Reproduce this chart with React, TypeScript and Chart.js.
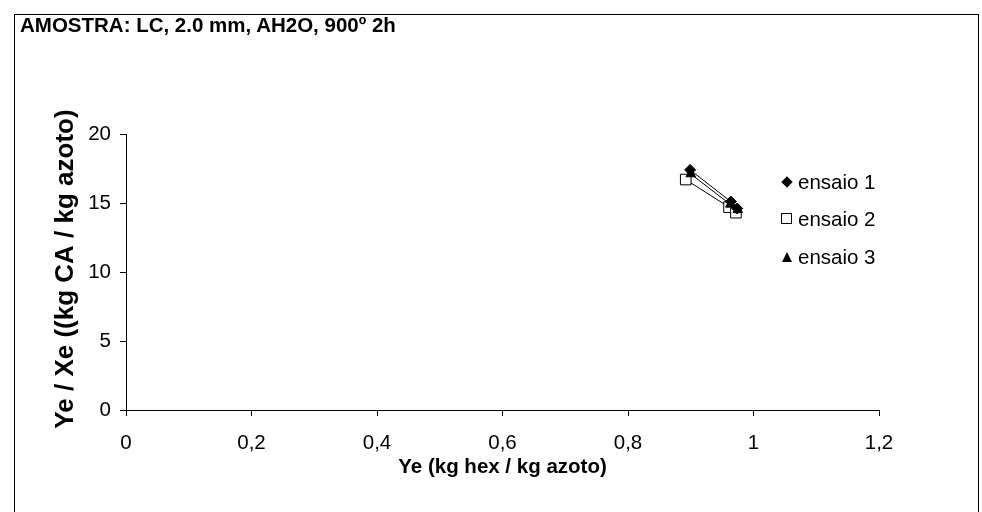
import React, { useEffect, useRef } from "react";
import { Chart, registerables } from "chart.js";

Chart.register(...registerables);

const chartTitle = "AMOSTRA: LC, 2.0 mm, AH2O, 900º 2h";
const xAxisTitle = "Ye (kg hex / kg azoto)";
const yAxisTitle = "Ye / Xe ((kg CA / kg azoto)";

const seriesNames = ["ensaio 1", "ensaio 2", "ensaio 3"];

const ensaio1X = [0.899, 0.964, 0.974];
const ensaio1Y = [17.4, 15.1, 14.6];
const ensaio2X = [0.892, 0.961, 0.972];
const ensaio2Y = [16.7, 14.7, 14.3];
const ensaio3X = [0.9, 0.963, 0.975];
const ensaio3Y = [17.1, 14.9, 14.5];

const xMin = 0;
const xMax = 1.2;
const xStep = 0.2;
const yMin = 0;
const yMax = 20;
const yStep = 5;

const FONT = "'Liberation Sans', Arial, sans-serif";

function toPoints(xs: number[], ys: number[]) {
  return xs.map((x, i) => ({ x, y: ys[i] }));
}

const titlesPlugin = {
  id: "axisTitles",
  afterDraw(chart: any) {
    const { ctx, chartArea } = chart;
    ctx.save();
    ctx.fillStyle = "#000";
    ctx.textAlign = "center";
    ctx.textBaseline = "middle";
    ctx.font = `bold 20.5px ${FONT}`;
    ctx.fillText(xAxisTitle, (chartArea.left + chartArea.right) / 2, 467);
    ctx.translate(66, (chartArea.top + chartArea.bottom) / 2 - 3);
    ctx.rotate(-Math.PI / 2);
    ctx.font = `bold 26px ${FONT}`;
    ctx.fillText(yAxisTitle, 0, 0);
    ctx.restore();
  },
};

export default function App() {
  const canvasRef = useRef<HTMLCanvasElement | null>(null);

  useEffect(() => {
    if (!canvasRef.current) return;
    const common = {
      showLine: true,
      borderColor: "#000",
      borderWidth: 1,
      pointBorderColor: "#000",
      pointBorderWidth: 1,
    };
    const chart = new Chart(canvasRef.current, {
      type: "scatter",
      data: {
        datasets: [
          {
            ...common,
            label: seriesNames[0],
            data: toPoints(ensaio1X, ensaio1Y),
            pointStyle: "rectRot",
            pointRadius: 5.5,
            pointBackgroundColor: "#000",
            order: 1,
          },
          {
            ...common,
            label: seriesNames[1],
            data: toPoints(ensaio2X, ensaio2Y),
            pointStyle: "rect",
            pointRadius: 7.5,
            pointBackgroundColor: "#fff",
            order: 2,
          },
          {
            ...common,
            label: seriesNames[2],
            data: toPoints(ensaio3X, ensaio3Y),
            pointStyle: "triangle",
            pointRadius: 5.5,
            pointBackgroundColor: "#000",
            order: 0,
          },
        ],
      },
      options: {
        responsive: false,
        animation: false,
        devicePixelRatio: 1,
        layout: { padding: { top: 134, right: 103, bottom: 0, left: 0 } },
        plugins: {
          legend: { display: false },
          tooltip: { enabled: false },
          title: { display: false },
        },
        scales: {
          x: {
            type: "linear",
            min: xMin,
            max: xMax,
            afterFit: (s: any) => {
              s.height = 102;
            },
            ticks: {
              stepSize: xStep,
              color: "#000",
              padding: 15,
              maxRotation: 0,
              font: { family: FONT, size: 20.5 },
              callback: (v: any) => String(Math.round(Number(v) * 10) / 10).replace(".", ","),
            },
            grid: {
              display: true,
              drawOnChartArea: false,
              drawTicks: true,
              tickLength: 6,
              color: "#000",
              lineWidth: 1,
            },
            border: { display: true, color: "#000", width: 1 },
          },
          y: {
            type: "linear",
            min: yMin,
            max: yMax,
            afterFit: (s: any) => {
              s.width = 126;
            },
            ticks: {
              stepSize: yStep,
              color: "#000",
              padding: 9,
              font: { family: FONT, size: 20.5 },
            },
            grid: {
              display: true,
              drawOnChartArea: false,
              drawTicks: true,
              tickLength: 6,
              color: "#000",
              lineWidth: 1,
            },
            border: { display: true, color: "#000", width: 1 },
          },
        },
      },
      plugins: [titlesPlugin],
    } as any);
    return () => chart.destroy();
  }, []);

  const legendRows = [
    { name: seriesNames[0], y: 182, marker: "diamond" },
    { name: seriesNames[1], y: 219, marker: "square" },
    { name: seriesNames[2], y: 257, marker: "triangle" },
  ];

  const markerEl = (kind: string) => {
    if (kind === "diamond") {
      return (
        <div
          style={{
            position: "absolute",
            left: -4,
            top: -4,
            width: 8,
            height: 8,
            background: "#000",
            transform: "rotate(45deg)",
          }}
        />
      );
    }
    if (kind === "square") {
      return (
        <div
          style={{
            position: "absolute",
            left: -6,
            top: -6,
            width: 11,
            height: 11,
            background: "#fff",
            border: "1px solid #000",
            boxSizing: "border-box",
          }}
        />
      );
    }
    return (
      <div
        style={{
          position: "absolute",
          left: -5,
          top: -5,
          width: 0,
          height: 0,
          borderLeft: "5px solid transparent",
          borderRight: "5px solid transparent",
          borderBottom: "10px solid #000",
        }}
      />
    );
  };

  return (
    <div
      style={{
        position: "fixed",
        left: 0,
        top: 0,
        width: 982,
        height: 512,
        overflow: "hidden",
        background: "#fff",
        fontFamily: FONT,
      }}
    >
      <div
        style={{
          position: "absolute",
          left: 14,
          top: 14,
          width: 965,
          height: 520,
          border: "1px solid #000",
          boxSizing: "border-box",
        }}
      />
      <canvas
        ref={canvasRef}
        width={982}
        height={512}
        style={{ position: "absolute", left: 0, top: 0, width: 982, height: 512 }}
      />
      <div
        style={{
          position: "absolute",
          left: 20,
          top: 15,
          fontSize: 20.5,
          lineHeight: "20px",
          fontWeight: "bold",
          whiteSpace: "nowrap",
          color: "#000",
        }}
      >
        {chartTitle}
      </div>
      {legendRows.map((r) => (
        <div key={r.name}>
          <div style={{ position: "absolute", left: 787, top: r.y, width: 0, height: 0 }}>
            {markerEl(r.marker)}
          </div>
          <div
            style={{
              position: "absolute",
              left: 798,
              top: r.y - 11,
              fontSize: 20.5,
              lineHeight: "22px",
              whiteSpace: "nowrap",
              color: "#000",
            }}
          >
            {r.name}
          </div>
        </div>
      ))}
    </div>
  );
}
